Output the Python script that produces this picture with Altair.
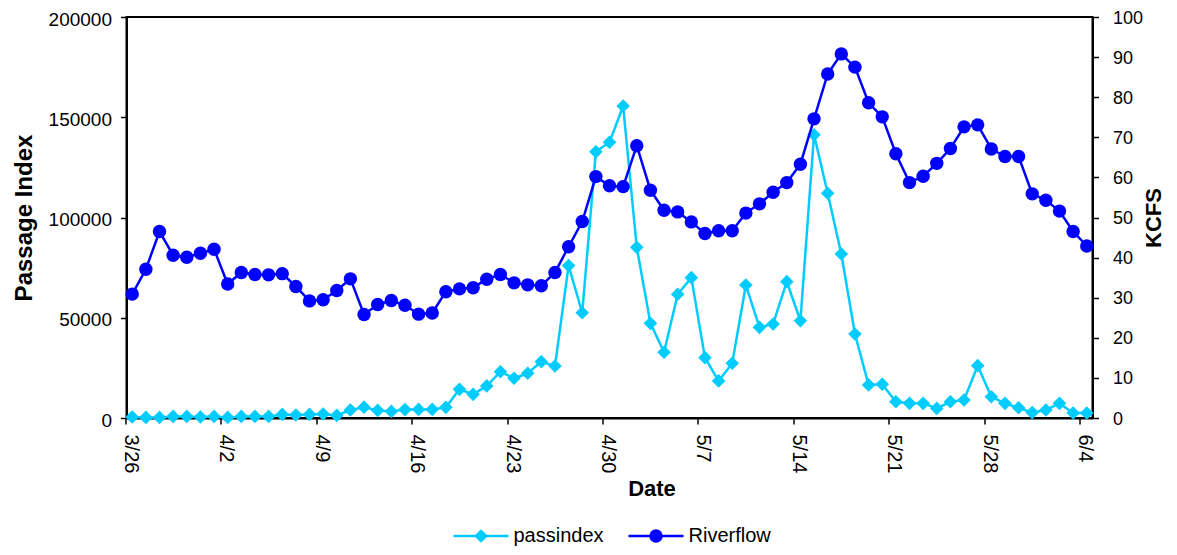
import altair as alt
import pandas as pd

# ---- data ----
tick_labels = ["3/26", "4/2", "4/9", "4/16", "4/23", "4/30",
               "5/7", "5/14", "5/21", "5/28", "6/4"]
day_index = list(range(71))  # daily, 3/26 .. 6/4

passindex = [
    500, 300, 300, 800, 800, 500, 800, 300, 800, 800,
    800, 1800, 1500, 1800, 2000, 1300, 4000, 5400, 3800, 3300,
    4200, 4300, 4300, 5300, 14300, 11800, 16000, 23100, 19800, 22300,
    28100, 25900, 76000, 52500, 132800, 137500, 155600, 85100, 47200, 32800,
    61700, 70000, 30100, 18500, 27300, 66300, 45200, 46900, 68000, 48500,
    141300, 112100, 81800, 41900, 16500, 16800, 8100, 7300, 7300, 4800,
    8100, 9000, 26100, 10600, 7300, 5100, 2700, 4000, 7300, 2500,
    2500,
]

riverflow = [
    30.9, 37.1, 46.5, 40.6, 40.1, 41.1, 42.1, 33.4, 36.3, 35.8,
    35.7, 36.0, 32.8, 29.2, 29.5, 31.8, 34.7, 25.8, 28.3, 29.3,
    28.1, 25.9, 26.2, 31.5, 32.2, 32.5, 34.6, 35.8, 33.7, 33.2,
    33.0, 36.3, 42.7, 49.0, 60.2, 57.9, 57.7, 67.9, 56.8, 51.8,
    51.4, 48.9, 46.0, 46.7, 46.7, 51.1, 53.4, 56.3, 58.7, 63.3,
    74.6, 85.8, 90.8, 87.5, 78.6, 75.1, 65.9, 58.7, 60.3, 63.5,
    67.2, 72.6, 73.1, 67.1, 65.2, 65.2, 55.9, 54.3, 51.6, 46.5,
    42.9,
]

series_names = ["passindex", "Riverflow"]
left_ticks = [0, 50000, 100000, 150000, 200000]
right_ticks = [0, 10, 20, 30, 40, 50, 60, 70, 80, 90, 100]

df = pd.DataFrame({"day": day_index, "passindex": passindex, "riverflow": riverflow})

CYAN = "#00CCFF"
BLUE = "#0000FF"
FONT = "Liberation Sans"

label_expr = "[" + ",".join("'%s'" % t for t in tick_labels) + "][round(datum.value/7)]"

x_enc = alt.X(
    "day:Q",
    scale=alt.Scale(domain=[-0.42, 70.42], nice=False, zero=False),
    axis=alt.Axis(
        values=[7 * i for i in range(len(tick_labels))],
        labelExpr=label_expr,
        labelAngle=90,
        labelFontSize=20,
        labelPadding=10,
        tickOffset=-7,
        labelOffset=5,
        title="Date",
        titleFontSize=22,
        titlePadding=6,
        titleX=525,
    ),
)

base = alt.Chart(df)

pass_chart = base.mark_line(
    color=CYAN, strokeWidth=2.5,
    point=alt.OverlayMarkDef(shape="diamond", filled=True, size=185, color=CYAN, opacity=1),
).encode(
    x=x_enc,
    y=alt.Y(
        "passindex:Q",
        scale=alt.Scale(domain=[0, 200000], nice=False),
        axis=alt.Axis(values=left_ticks, format="d", title="Passage Index",
                      labelFontSize=19, labelOffset=2, titleFontSize=24,
                      labelPadding=9, titlePadding=12),
    ),
)

river_chart = base.mark_line(
    color=BLUE, strokeWidth=2.5,
    point=alt.OverlayMarkDef(shape="circle", filled=True, size=180, color=BLUE, opacity=1),
).encode(
    x=x_enc,
    y=alt.Y(
        "riverflow:Q",
        scale=alt.Scale(domain=[0, 100], nice=False),
        axis=alt.Axis(orient="right", values=right_ticks, title="KCFS",
                      labelFontSize=18, labelOffset=1, titleAngle=270, titleBaseline="top",
                      titleFontSize=22, labelPadding=14, titlePadding=1),
    ),
)

# ---- manual legend (line + marker + label) ----
one = pd.DataFrame({"k": [0]})
LEG_Y = 519
leg = []
for name, color, shape, x0 in [(series_names[0], CYAN, "diamond", 327),
                               (series_names[1], BLUE, "circle", 502)]:
    leg.append(alt.Chart(one).mark_rule(color=color, strokeWidth=2.5).encode(
        x=alt.value(x0), x2=alt.value(x0 + 55), y=alt.value(LEG_Y)))
    leg.append(alt.Chart(one).mark_point(shape=shape, filled=True, size=180,
                                         color=color, opacity=1).encode(
        x=alt.value(x0 + 27.5), y=alt.value(LEG_Y)))
    leg.append(alt.Chart(one).mark_text(align="left", baseline="middle", fontSize=20,
                                        font=FONT, color="black", text=name).encode(
        x=alt.value(x0 + 60), y=alt.value(LEG_Y)))

chart = alt.layer(pass_chart, river_chart, *leg).resolve_scale(
    y="independent"
).properties(
    width=966,
    height=401,
    autosize=alt.AutoSizeParams(type="none"),
    padding={"left": 118.5, "top": 9, "right": 76.5, "bottom": 129},
).configure_axis(
    labelFont=FONT,
    titleFont=FONT,
    labelFontSize=19,
    labelColor="black",
    titleColor="black",
    titleFontWeight="bold",
    tickColor="black",
    tickSize=6,
    tickWidth=1.5,
    domainColor="black",
    domainWidth=2,
    grid=False,
).configure_view(
    stroke="black",
    strokeWidth=2,
)

chart.save("out.html", embed_options={"renderer": "svg", "actions": False})
